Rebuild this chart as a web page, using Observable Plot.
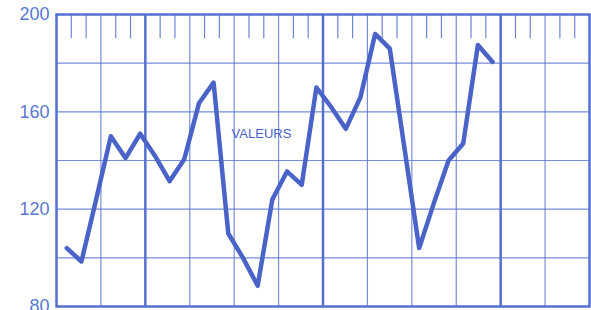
<!DOCTYPE html>
<html>
<head>
<meta charset="utf-8">
<script src="https://cdn.jsdelivr.net/npm/d3@7"></script>
<script src="https://cdn.jsdelivr.net/npm/@observablehq/plot@0.6"></script>
<style>
  html, body { margin: 0; padding: 0; background: #ffffff; }
  #chart { width: 591px; height: 310px; overflow: hidden; }
</style>
</head>
<body>
<div id="chart"></div>
<script>
// Data
const months = d3.range(30);
const values = [104, 98.5, 124, 150, 141, 151, 142, 131.5, 140.5, 163.5,
                172, 110, 100, 88.5, 124, 135.5, 130, 170, 162, 153,
                166, 192, 186, 145, 104, 122.5, 140, 147, 187.5, 180.5];
const yTickLabels = [80, 120, 160, 200];
const yGrid = [80, 100, 120, 140, 160, 180, 200];
const seriesLabel = "VALEURS";

const data = months.map((m, i) => ({month: m, value: values[i]}));

const xDomain = [-0.7, 35.6];
const cell = (xDomain[1] - xDomain[0]) / 12;
const gridAll = d3.range(13).map(k => xDomain[0] + k * cell);
const thickIdx = [2, 6, 10];
const thinX = gridAll.filter((_, k) => k > 0 && k < 12 && !thickIdx.includes(k));
const thickX = thickIdx.map(k => gridAll[k]);
const tickX = d3.range(36).filter(k => k % 3 !== 0).map(k => xDomain[0] + k * cell / 3);

const blue = "#4a63c8";
const gridBlue = "#5470cf";

const chart = Plot.plot({
  width: 591,
  height: 310,
  marginLeft: 56,
  marginRight: 2,
  marginTop: 14,
  marginBottom: 4,
  style: {background: "#ffffff", fontFamily: "Liberation Sans, Arial, sans-serif"},
  x: {domain: xDomain, axis: null},
  y: {domain: [80, 200]},
  marks: [
    Plot.ruleY(yGrid, {stroke: gridBlue, strokeWidth: 1.2, strokeOpacity: 0.8}),
    Plot.ruleX(thinX, {stroke: gridBlue, strokeWidth: 1.2, strokeOpacity: 0.8}),
    Plot.ruleX(thickX, {stroke: gridBlue, strokeWidth: 2.5}),
    Plot.ruleX(tickX, {y1: 200, y2: 190, stroke: gridBlue, strokeWidth: 1.2, strokeOpacity: 0.85}),
    Plot.frame({stroke: gridBlue, strokeWidth: 2.5}),
    Plot.axisY({ticks: yTickLabels, tickSize: 0, tickPadding: 7, fontSize: 18, fill: "#5a78d4", label: null}),
    Plot.line(data, {x: "month", y: "value", stroke: blue, strokeWidth: 4.5, strokeLinejoin: "round", strokeLinecap: "round"}),
    Plot.text([seriesLabel], {x: 13.26, y: 151, text: d => d, fill: blue, fontSize: 13, letterSpacing: 0.5})
  ]
});
document.getElementById("chart").appendChild(chart);
</script>
</body>
</html>
